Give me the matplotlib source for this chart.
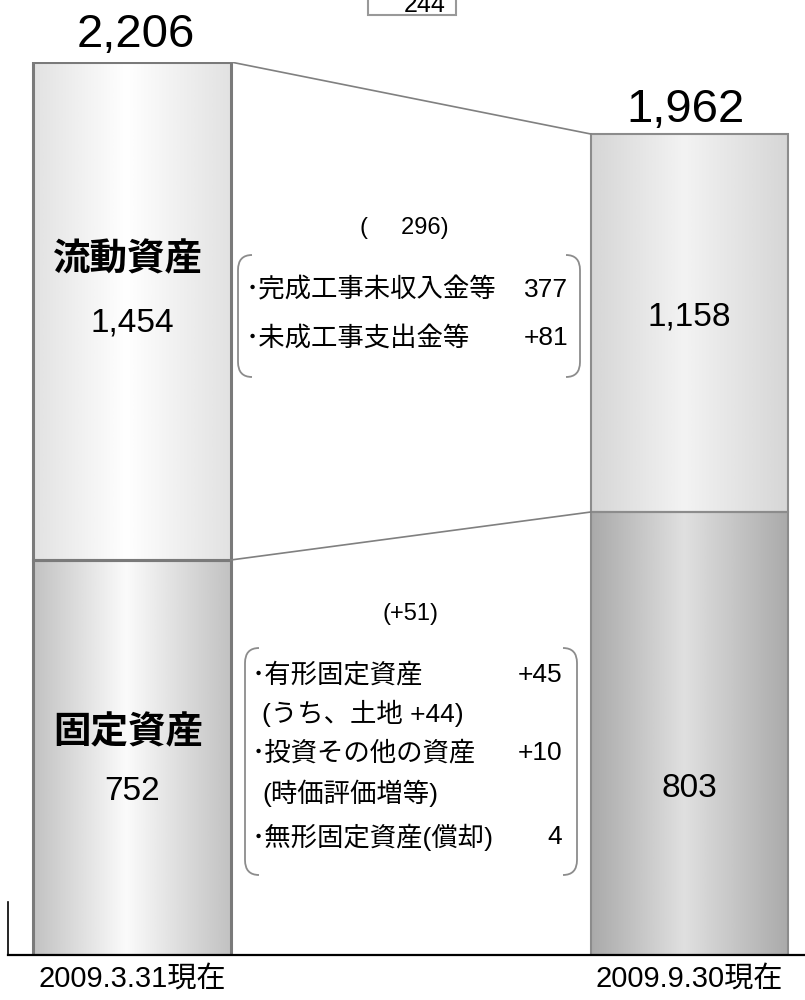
import numpy as np
import matplotlib.pyplot as plt
from matplotlib.colors import LinearSegmentedColormap
from matplotlib.path import Path
from matplotlib.patches import PathPatch, Rectangle

plt.rcParams['font.family'] = ['Liberation Sans', 'Noto Sans CJK JP', 'DejaVu Sans']

# データ (億円)
dates = ['2009.3.31現在', '2009.9.30現在']
current_assets = [1454, 1158]   # 流動資産
fixed_assets = [752, 803]       # 固定資産
totals = [2206, 1962]

current_items = ['･完成工事未収入金等', '･未成工事支出金等']
current_item_values = ['377', '+81']
fixed_items = ['･有形固定資産', '(うち、土地 +44)', '･投資その他の資産', '(時価評価増等)', '･無形固定資産(償却)']
fixed_item_values = ['+45', '', '+10', '', '4']

# 元の図は縮尺どおりではないので、値 -> 高さ(px) を区分線形でつなぐ
stack_tops = [fixed_assets[0], fixed_assets[1], fixed_assets[1] + current_assets[1], totals[0]]
_v = [-1000, 0] + stack_tops + [5000]
_p = [-500, 0, 395, 443, 821, 893, 893 + 2794 * 0.3]

def fwd(v):
    return np.interp(v, _v, _p)

def inv(p):
    return np.interp(p, _p, _v)

fig = plt.figure(figsize=(8.05, 10), dpi=100)
ax = fig.add_axes([8 / 805, 45 / 1000, 797 / 805, 893 / 1000])
ax.set_yscale('function', functions=(fwd, inv))

x = np.arange(len(dates))
w = 0.354
shades = {
    (0, 0): ('#c2c2c2', '#fbfbfb'),
    (0, 1): ('#e2e2e2', '#ffffff'),
    (1, 0): ('#aaaaaa', '#e0e0e0'),
    (1, 1): ('#d6d6d6', '#f3f3f3'),
}
edge_style = {0: ('#7a7a7a', 2.2), 1: ('#8c8c8c', 1.5)}
grad = np.linspace(0, 1, 256).reshape(1, -1)

for i in x:
    segs = [(0, fixed_assets[i]), (fixed_assets[i], current_assets[i])]
    for j, (b, h) in enumerate(segs):
        ec, lw = edge_style[i]
        bar = ax.bar(x[i], h, bottom=b, width=w, facecolor='none',
                     edgecolor=ec, linewidth=lw, zorder=3)[0]
        edge, center = shades[(i, j)]
        cmap = LinearSegmentedColormap.from_list('g', [(0, edge), (0.47, center), (1, edge)])
        im = ax.imshow(grad, cmap=cmap, extent=[x[i] - w / 2, x[i] + w / 2, b, b + h],
                       aspect='auto', zorder=2, interpolation='bicubic')
        im.set_clip_path(bar)

# 連結線
ax.plot([x[0] + w / 2, x[1] - w / 2], [fixed_assets[0] + current_assets[0],
        fixed_assets[1] + current_assets[1]], color='#808080', lw=1.2, zorder=4)
ax.plot([x[0] + w / 2, x[1] - w / 2], fixed_assets, color='#808080', lw=1.2, zorder=4)

ax.set_xlim(-124 / 557.5, -124 / 557.5 + 797 / 557.5)
ax.set_ylim(0, totals[0])
for s in ['top', 'right', 'left']:
    ax.spines[s].set_visible(False)
ax.spines['bottom'].set_linewidth(1.6)
ax.spines['bottom'].set_zorder(5)
ax.plot([0, 0], [0, 53 / 893], transform=ax.transAxes, color='k', lw=1.2, clip_on=False)
ax.set_yticks([])
ax.set_xticks(x)
ax.set_xticklabels(dates, fontsize=21)
ax.tick_params(axis='x', length=0, pad=7)

# 注記用のピクセル座標レイヤー
ov = fig.add_axes([0, 0, 1, 1])
ov.set_xlim(0, 805)
ov.set_ylim(1000, 0)
ov.axis('off')

ov.text(136, 47, f'{totals[0]:,}', ha='center', va='baseline', fontsize=34)
ov.text(685, 122, f'{totals[1]:,}', ha='center', va='baseline', fontsize=34)

ov.text(128, 260, '流動資産', ha='center', va='center', fontsize=27, fontweight='bold')
ov.text(132, 331, f'{current_assets[0]:,}', ha='center', va='baseline', fontsize=24)
ov.text(128, 733, '固定資産', ha='center', va='center', fontsize=27, fontweight='bold')
ov.text(132, 800, f'{fixed_assets[0]:,}', ha='center', va='baseline', fontsize=24)
ov.text(689, 325, f'{current_assets[1]:,}', ha='center', va='baseline', fontsize=24)
ov.text(689, 797, f'{fixed_assets[1]:,}', ha='center', va='baseline', fontsize=24)

# 増減
ov.add_patch(Rectangle((368, -20), 88, 35, facecolor='white', edgecolor='#999999', lw=1.5))
ov.text(446, 12, f'{abs(totals[1] - totals[0])}', ha='right', va='baseline', fontsize=18)
ov.text(404, 234, f'({" " * 5}{abs(current_assets[1] - current_assets[0])})',
        ha='center', va='baseline', fontsize=17)
ov.text(410, 620, f'(+{fixed_assets[1] - fixed_assets[0]})', ha='center', va='baseline', fontsize=17)


def bracket(x0, x1, y0, y1, hook=14, r=15):
    for xs, sgn in ((x0, 1), (x1, -1)):
        verts = [(xs + sgn * hook, y0), (xs, y0), (xs, y0 + r), (xs, y1 - r), (xs, y1), (xs + sgn * hook, y1)]
        codes = [Path.MOVETO, Path.CURVE3, Path.CURVE3, Path.LINETO, Path.CURVE3, Path.CURVE3]
        ov.add_patch(PathPatch(Path(verts, codes), fill=False, edgecolor='#8c8c8c', lw=1.3))


bracket(238, 580, 255, 377)
for k, yy in enumerate([290, 338]):
    ov.text(246, yy, current_items[k], ha='left', va='center', fontsize=19)
    ov.text(568, yy, current_item_values[k], ha='right', va='center', fontsize=19)

bracket(245, 577, 648, 875)
for k, yy in enumerate([675, 713, 753, 793, 837]):
    xl = 252 if fixed_items[k].startswith('･') else 262
    ov.text(xl, yy, fixed_items[k], ha='left', va='center', fontsize=19)
    ov.text(562, yy, fixed_item_values[k], ha='right', va='center', fontsize=19)

fig.savefig('out.png', dpi=100)
